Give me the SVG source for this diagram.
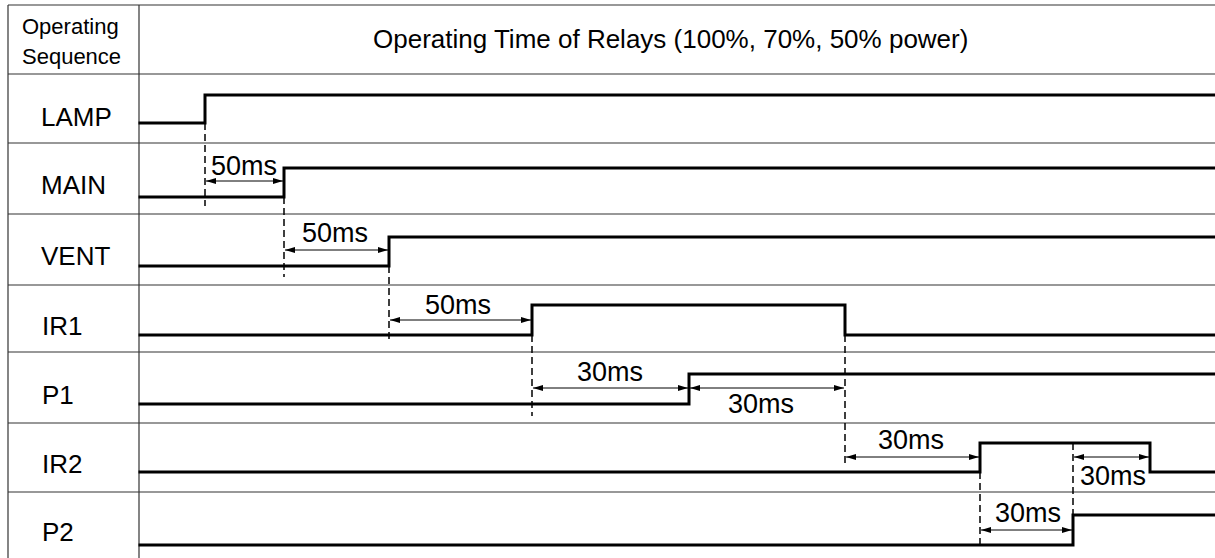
<svg xmlns="http://www.w3.org/2000/svg" width="1215" height="558" viewBox="0 0 1215 558">
<style>
  .grid { stroke: #333; stroke-width: 1.2; fill: none; }
  .sig { stroke: #000; stroke-width: 3; fill: none; stroke-linejoin: miter; stroke-linecap: square; }
  .dash { stroke: #000; stroke-width: 1.5; fill: none; stroke-dasharray: 7 4; }
  .dim { stroke: #000; stroke-width: 1; fill: none; marker-start: url(#ah); marker-end: url(#ah); }
  .hdr { font-family: "Liberation Sans", Arial, sans-serif; font-size: 22px; fill: #000; }
  .ttl { font-family: "Liberation Sans", Arial, sans-serif; font-size: 26px; fill: #000; }
  .lbl { font-family: "Liberation Sans", Arial, sans-serif; font-size: 26px; fill: #000; }
  .ms { font-family: "Liberation Sans", Arial, sans-serif; font-size: 27px; fill: #000; }
</style>
<defs>
  <marker id="ah" viewBox="0 0 10 6" refX="10" refY="3" markerWidth="10" markerHeight="6" markerUnits="userSpaceOnUse" orient="auto-start-reverse">
    <path d="M0,0 L10,3 L0,6 Z" fill="#000"/>
  </marker>
</defs>
<rect width="1215" height="558" fill="#fff"/>
<g id="grid">
  <line class="grid" x1="8" y1="5" x2="1215" y2="5"/>
  <line class="grid" x1="8" y1="5" x2="8" y2="558"/>
  <line class="grid" x1="139" y1="5" x2="139" y2="558"/>
  <line class="grid" x1="8" y1="74" x2="1215" y2="74"/>
  <line class="grid" x1="8" y1="143" x2="1215" y2="143"/>
  <line class="grid" x1="8" y1="214" x2="1215" y2="214"/>
  <line class="grid" x1="8" y1="285" x2="1215" y2="285"/>
  <line class="grid" x1="8" y1="352" x2="1215" y2="352"/>
  <line class="grid" x1="8" y1="423" x2="1215" y2="423"/>
  <line class="grid" x1="8" y1="492" x2="1215" y2="492"/>
</g>
<g id="header">
  <text class="hdr" x="22" y="34">Operating</text>
  <text class="hdr" x="22" y="64">Sequence</text>
  <text class="ttl" x="373" y="48">Operating Time of Relays (100%, 70%, 50% power)</text>
</g>
<g id="lamp">
  <text class="lbl" x="41" y="126">LAMP</text>
  <path class="sig" d="M140,123 H205 V95 H1215"/>
</g>
<g id="main">
  <text class="lbl" x="41" y="194">MAIN</text>
  <path class="sig" d="M140,197 H284 V168 H1215"/>
</g>
<g id="vent">
  <text class="lbl" x="41" y="265">VENT</text>
  <path class="sig" d="M140,266 H389 V237 H1215"/>
</g>
<g id="ir1">
  <text class="lbl" x="42" y="335">IR1</text>
  <path class="sig" d="M140,335 H532 V305 H845 V335 H1215"/>
</g>
<g id="p1">
  <text class="lbl" x="42" y="404">P1</text>
  <path class="sig" d="M140,404 H689 V374 H1215"/>
</g>
<g id="ir2">
  <text class="lbl" x="42" y="473">IR2</text>
  <path class="sig" d="M140,472 H980 V443 H1150 V472 H1215"/>
</g>
<g id="p2">
  <text class="lbl" x="42" y="541">P2</text>
  <path class="sig" d="M140,545 H1073 V515 H1215"/>
</g>
<g id="connectors">
  <line class="dash" x1="205" y1="123" x2="205" y2="206"/>
  <line class="dash" x1="284" y1="197" x2="284" y2="277"/>
  <line class="dash" x1="389" y1="266" x2="389" y2="342"/>
  <line class="dash" x1="532" y1="335" x2="532" y2="416"/>
  <line class="dash" x1="845" y1="335" x2="845" y2="465"/>
  <line class="dash" x1="980" y1="472" x2="980" y2="545"/>
  <line class="dash" x1="1073" y1="443" x2="1073" y2="515"/>
  <line class="dim" x1="206" y1="181" x2="283" y2="181"/>
  <line class="dim" x1="285" y1="250" x2="388" y2="250"/>
  <line class="dim" x1="390" y1="320" x2="531" y2="320"/>
  <line class="dim" x1="533" y1="388" x2="688" y2="388"/>
  <line class="dim" x1="690" y1="388" x2="844" y2="388"/>
  <line class="dim" x1="846" y1="457" x2="979" y2="457"/>
  <line class="dim" x1="1074" y1="457" x2="1149" y2="457"/>
  <line class="dim" x1="981" y1="530" x2="1072" y2="530"/>
  <text class="ms" x="211" y="175">50ms</text>
  <text class="ms" x="302" y="242">50ms</text>
  <text class="ms" x="425" y="314">50ms</text>
  <text class="ms" x="577" y="381">30ms</text>
  <text class="ms" x="728" y="413">30ms</text>
  <text class="ms" x="878" y="449">30ms</text>
  <text class="ms" x="1080" y="485">30ms</text>
  <text class="ms" x="995" y="522">30ms</text>
</g>
</svg>
